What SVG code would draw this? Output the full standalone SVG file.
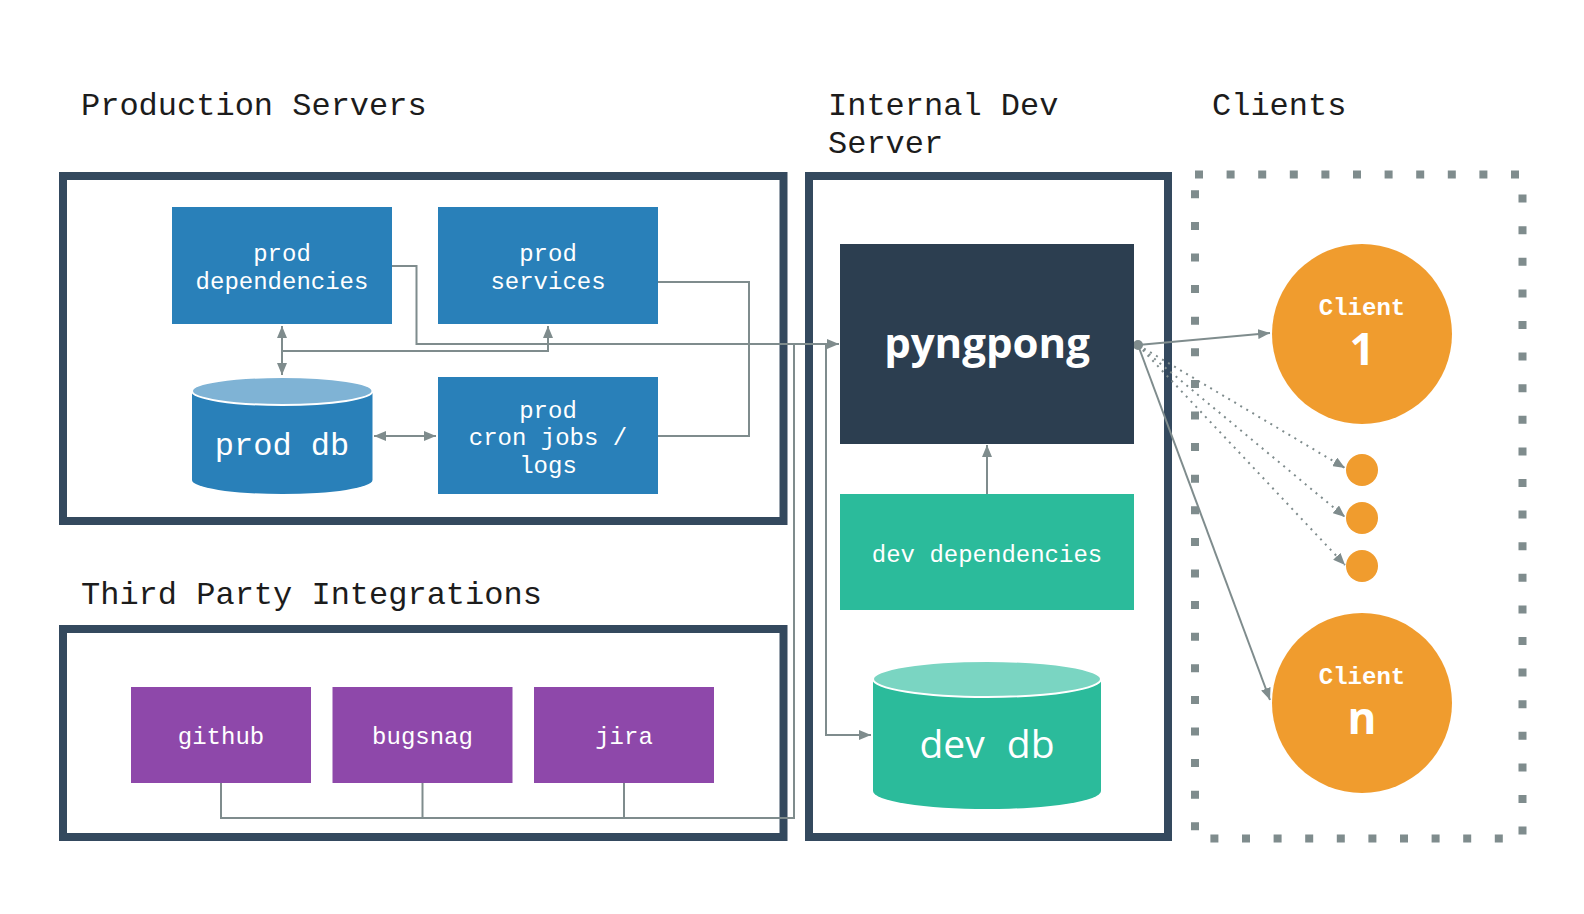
<svg xmlns="http://www.w3.org/2000/svg" width="1584" height="914" viewBox="0 0 1584 914">
<style>
.title{font-family:"Liberation Mono","DejaVu Sans Mono",monospace;font-size:32px;fill:#1c1c1c}
.lbl{font-family:"Liberation Mono","DejaVu Sans Mono",monospace;font-size:24px;fill:#ffffff;text-anchor:middle}
.frame{fill:none;stroke:#34495e;stroke-width:8}
.blue{fill:#2980b9}
.purple{fill:#8e48aa}
.teal{fill:#2bbb9b}
.orange{fill:#f09c2e}
.conn{fill:none;stroke:#7f8c8d;stroke-width:2}
.ar{marker-end:url(#ah)}
.ar2{marker-start:url(#ah);marker-end:url(#ah)}
.dot{stroke-dasharray:2 5}
</style>
<defs>
<marker id="ah" markerUnits="userSpaceOnUse" markerWidth="12" markerHeight="10" refX="12" refY="5" orient="auto-start-reverse" viewBox="0 0 12 10">
<path d="M0,0 L12,5 L0,10 Z" fill="#7f8c8d"/>
</marker>
</defs>
<rect width="1584" height="914" fill="#ffffff"/>

<g id="titles">
<text class="title" x="81" y="115">Production Servers</text>
<text class="title" x="81" y="604">Third Party Integrations</text>
<text class="title" x="828" y="115">Internal Dev</text>
<text class="title" x="828" y="153">Server</text>
<text class="title" x="1212" y="115">Clients</text>
</g>

<g id="frames">
<rect id="production-servers" class="frame" x="63" y="176" width="720.5" height="345"/>
<rect id="third-party" class="frame" x="63" y="629" width="720.5" height="208"/>
<rect id="internal-dev-server" class="frame" x="809" y="176" width="359" height="661"/>
<rect id="clients-frame" x="1195" y="174.5" width="327.5" height="664" fill="none" stroke="#7f8c8d" stroke-width="8" stroke-dasharray="8 23.6"/>
</g>

<g id="connectors">
<path class="conn ar" d="M392,266 H416.5 V344 H839"/>
<path class="conn ar2" d="M282,326 V375"/>
<path class="conn ar" d="M282,351 H548 V326"/>
<path class="conn ar2" d="M374,436 H436"/>
<path class="conn" d="M658,282 H749 V436 H658"/>
<path class="conn" d="M221,783 V818 H794 V344"/>
<path class="conn" d="M422.5,783 V818"/>
<path class="conn" d="M624,783 V818"/>
<path class="conn ar" d="M826,344 V735 H871"/>
<path class="conn ar" d="M987,494 V445"/>
<path class="conn ar" d="M1138,345 L1270,333"/>
<path class="conn ar" d="M1138,345 L1270,700"/>
<path class="conn dot ar" d="M1138,345 L1345,468"/>
<path class="conn dot ar" d="M1138,345 L1345,517"/>
<path class="conn dot ar" d="M1138,345 L1345,565"/>
<circle cx="1138" cy="345" r="5" fill="#7f8c8d"/>
</g>

<g id="prod-dependencies">
<rect class="blue" x="172" y="207" width="220" height="117"/>
<text class="lbl" x="282" y="261">prod</text>
<text class="lbl" x="282" y="289">dependencies</text>
</g>
<g id="prod-services">
<rect class="blue" x="438" y="207" width="220" height="117"/>
<text class="lbl" x="548" y="261">prod</text>
<text class="lbl" x="548" y="289">services</text>
</g>
<g id="prod-cron">
<rect class="blue" x="438" y="377" width="220" height="117"/>
<text class="lbl" x="548" y="418">prod</text>
<text class="lbl" x="548" y="445">cron jobs /</text>
<text class="lbl" x="548" y="473">logs</text>
</g>
<g id="prod-db">
<path class="blue" d="M192,391 V480 A90.25,14 0 0 0 372.5,480 V391 Z"/>
<ellipse cx="282.25" cy="391" rx="90.25" ry="14" fill="#7fb3d5" stroke="#ffffff" stroke-width="2"/>
<text class="lbl" x="282" y="455" style="font-size:32px">prod db</text>
</g>

<g id="github">
<rect class="purple" x="131" y="687" width="180" height="96"/>
<text class="lbl" x="221" y="744">github</text>
</g>
<g id="bugsnag">
<rect class="purple" x="332.5" y="687" width="180" height="96"/>
<text class="lbl" x="422.5" y="744">bugsnag</text>
</g>
<g id="jira">
<rect class="purple" x="534" y="687" width="180" height="96"/>
<text class="lbl" x="624" y="744">jira</text>
</g>

<g id="pyngpong">
<rect x="840" y="244" width="294" height="200" fill="#2c3e50"/>
<text x="987" y="358" text-anchor="middle" style="font-family:'Open Sans','Noto Sans',sans-serif;font-weight:700;font-size:42px;fill:#ffffff">pyngpong</text>
</g>
<g id="dev-dependencies">
<rect class="teal" x="840" y="494" width="294" height="116"/>
<text class="lbl" x="987" y="562">dev dependencies</text>
</g>
<g id="dev-db">
<path class="teal" d="M873,679 V791 A114,18 0 0 0 1101,791 V679 Z"/>
<ellipse cx="987" cy="679" rx="114" ry="18" fill="#7ad5c2" stroke="#ffffff" stroke-width="2"/>
<text x="987" y="758" text-anchor="middle" style="font-family:'Open Sans','Noto Sans',sans-serif;font-size:39px;fill:#ffffff;word-spacing:12px">dev db</text>
</g>

<g id="client-1">
<circle class="orange" cx="1362" cy="334" r="90"/>
<text class="lbl" x="1362" y="315" style="font-weight:700">Client</text>
<text x="1362" y="365" text-anchor="middle" style="font-family:'Open Sans','Noto Sans',sans-serif;font-weight:700;font-size:44px;fill:#ffffff">1</text>
</g>
<g id="client-dots">
<circle class="orange" cx="1362" cy="470" r="16"/>
<circle class="orange" cx="1362" cy="518" r="16"/>
<circle class="orange" cx="1362" cy="566" r="16"/>
</g>
<g id="client-n">
<circle class="orange" cx="1362" cy="703" r="90"/>
<text class="lbl" x="1362" y="684" style="font-weight:700">Client</text>
<text x="1362" y="734" text-anchor="middle" style="font-family:'Open Sans','Noto Sans',sans-serif;font-weight:700;font-size:44px;fill:#ffffff">n</text>
</g>
</svg>
